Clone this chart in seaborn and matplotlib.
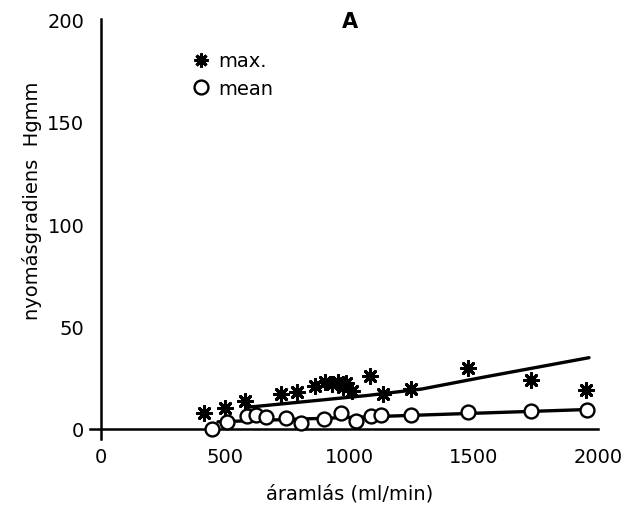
import matplotlib
matplotlib.use("Agg")
import matplotlib.pyplot as plt
import seaborn as sns
import pandas as pd
from matplotlib.lines import Line2D

# --- data ---
max_flow = [415, 500, 580, 725, 790, 860, 900, 930, 955, 975, 985, 1010, 1080, 1135, 1245, 1475, 1730, 1950]
max_grad = [8, 10, 13.5, 17, 18, 21, 23, 22, 23, 20.5, 22.5, 18.5, 26, 17, 19.5, 30, 24, 19]

mean_flow = [445, 505, 585, 625, 665, 745, 805, 895, 965, 1025, 1085, 1125, 1245, 1475, 1730, 1955]
mean_grad = [0, 3.5, 6.5, 6.8, 6, 5.5, 3, 5, 8, 4, 6.5, 7, 7, 8.5, 9, 9.5]

max_fit_flow = [590, 1075, 1290, 1535, 1963]
max_fit_grad = [10.6, 16.4, 19.5, 25.2, 34.8]

mean_fit_flow = [470, 1956]
mean_fit_grad = [3.5, 9.5]

x_ticks = [0, 500, 1000, 1500, 2000]
y_ticks = [0, 50, 100, 150, 200]

df_max = pd.DataFrame({"flow": max_flow, "grad": max_grad})
df_mean = pd.DataFrame({"flow": mean_flow, "grad": mean_grad})
df_max_fit = pd.DataFrame({"flow": max_fit_flow, "grad": max_fit_grad})
df_mean_fit = pd.DataFrame({"flow": mean_fit_flow, "grad": mean_fit_grad})

sns.set_theme(style="white")
plt.rcParams["font.family"] = ["DejaVu Sans"]
plt.rcParams["text.color"] = "black"
plt.rcParams["axes.labelcolor"] = "black"

fig = plt.figure(figsize=(6.29, 5.06), dpi=100)
ax = fig.add_axes([0.143, 0.130, 0.808, 0.830])

sns.lineplot(data=df_max_fit, x="flow", y="grad", ax=ax, color="black", linewidth=2.4, zorder=2)
sns.lineplot(data=df_mean_fit, x="flow", y="grad", ax=ax, color="black", linewidth=2.4, zorder=2)
sns.scatterplot(data=df_max, x="flow", y="grad", ax=ax, marker=(8, 2, 0), s=100,
                color="black", linewidth=2.2, zorder=3)
sns.scatterplot(data=df_mean, x="flow", y="grad", ax=ax, marker="o", s=100,
                facecolor="white", edgecolor="black", linewidth=1.7, zorder=4)

ax.set_xlim(-45, 2000)
ax.set_ylim(-5, 200)
ax.set_xticks(x_ticks)
ax.set_yticks(y_ticks)
ax.spines["left"].set_position(("data", 0))
ax.spines["bottom"].set_position(("data", 0))
ax.spines["right"].set_visible(False)
ax.spines["top"].set_visible(False)
for s in ["left", "bottom"]:
    ax.spines[s].set_linewidth(1.8)
    ax.spines[s].set_color("black")
ax.tick_params(axis="both", direction="out", length=10, width=1.8, colors="black",
               labelsize=14, pad=3)
ax.tick_params(axis="y", pad=2)

ax.set_xlabel("áramlás (ml/min)", fontsize=14, color="black")
ax.set_ylabel("nyomásgradiens  Hgmm", fontsize=14, color="black")
ax.xaxis.set_label_coords(0.51, -0.105)
ax.yaxis.set_label_coords(-0.095, 0.57)

ax.text(1002, 199, "A", fontsize=15, fontweight="bold", ha="center", va="center", color="black")

handles = [
    Line2D([], [], marker=(8, 2, 0), linestyle="none", color="black", markersize=10, markeredgewidth=2.2),
    Line2D([], [], marker="o", linestyle="none", markerfacecolor="white", markeredgecolor="black",
           markersize=10, markeredgewidth=1.7),
]
leg = ax.legend(handles, ["max.", "mean"], loc="upper left", bbox_to_anchor=(0.165, 0.965),
                frameon=False, fontsize=14, handletextpad=0.4, labelspacing=0.45, handlelength=1.0)
for t in leg.get_texts():
    t.set_color("black")

fig.savefig("out.png", dpi=100, facecolor="white")
